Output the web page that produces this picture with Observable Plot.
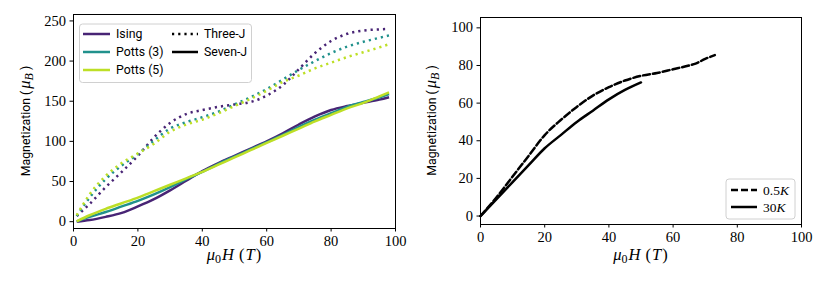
<!DOCTYPE html>
<html><head><meta charset="utf-8">
<script src="https://cdn.jsdelivr.net/npm/d3@7"></script>
<script src="https://cdn.jsdelivr.net/npm/@observablehq/plot@0.6"></script>
<style>
body{margin:0;background:#fff;}
#wrap{position:relative;width:830px;height:289px;overflow:hidden;}
#left,#right,#over{position:absolute;top:0;}
#left{left:0}#right{left:415px}#over{left:0;pointer-events:none}
</style></head><body><div id="wrap"><div id="left"></div><div id="right"></div><svg id="over" width="830" height="289"></svg></div>
<script>
// ---- Left panel data: field (T) and magnetization (μB)
const fieldLeft = [1,5,10,15,20,25,30,35,40,45,50,55,60,65,70,75,80,85,90,95,98];
const isingSeven  = [0,2,6,11,19,28,39,51,63,73,82,91,100,110,121,131,139,144,148,152,155];
const potts3Seven = [0.3,6,12,19,26,34,43,53,62,72,81,90,99,108,118,127,135,143,149,155,159];
const potts5Seven = [0.5,8,16,23,30,38,46,54,62,71,80,89,98,107,116,125,133,141,148,156,161];
const isingThree  = [7,22,43,62,82,105,123,134,139,143,146,149,157,170,190,210,225,234,238,239.5,240];
const potts3Three = [7,30,53,70,84,101,116,124,130,137,146,155,165,177,189,200,210,218,224,229,232];
const potts5Three = [8,34,57,73,85,97,112,121,127,135,144,153,163,174,182,191,198,205,211,217,221];
const models = ["Ising","Potts (3)","Potts (5)"];
const modelColors = ["#482475","#21918c","#bddf26"];
const couplings = ["Three-J","Seven-J"];
const leftXTicks = [0,20,40,60,80,100];
const leftYTicks = [0,50,100,150,200,250];

// ---- Right panel data
const fieldCold = [0,5,10,15,20,25,30,35,40,45,50,55,60,65,67,70,73];
const magCold   = [0,10,21,32,43,51,58,64,68.5,72,74.5,76,78,80,81,83.5,85.5];
const fieldHot  = [0,5,10,15,20,25,30,35,40,45,50];
const magHot    = [0,9,18,27,36,43,50,56,62,67,71];
const temps = ["0.5","30"];
const rightXTicks = [0,20,40,60,80,100];
const rightYTicks = [0,20,40,60,80,100];

const seriesLeft = [
  {model:0, coupling:0, y:isingThree},
  {model:1, coupling:0, y:potts3Three},
  {model:2, coupling:0, y:potts5Three},
  {model:0, coupling:1, y:isingSeven},
  {model:1, coupling:1, y:potts3Seven},
  {model:2, coupling:1, y:potts5Seven}
];

const tickFont = {fontFamily:"'Liberation Serif', serif", fontSize:"14.5px", color:"black", background:"white", overflow:"visible"};

const leftMarks = [];
for (const s of seriesLeft) {
  const rows = fieldLeft.map((x,i)=>({x, y:s.y[i]}));
  leftMarks.push(Plot.line(rows, {x:"x", y:"y", stroke:modelColors[s.model], strokeWidth:2.5,
    curve:"monotone-x", strokeDasharray: s.coupling===0 ? "2.2,4" : null, strokeLinecap:"butt"}));
}
leftMarks.push(Plot.frame({stroke:"black", strokeWidth:1}));

const left = Plot.plot({
  width:415, height:289, marginLeft:73, marginRight:20, marginTop:14, marginBottom:61,
  x:{domain:[0,100], ticks:leftXTicks, tickSize:3.5, tickPadding:4, label:null},
  y:{domain:[-8.5,258], ticks:leftYTicks, tickSize:3.5, tickPadding:4, label:null},
  style:tickFont,
  marks:leftMarks
});
document.getElementById("left").appendChild(left);

const coldRows = fieldCold.map((x,i)=>({x, y:magCold[i]}));
const hotRows = fieldHot.map((x,i)=>({x, y:magHot[i]}));
const right = Plot.plot({
  width:415, height:289, marginLeft:65, marginRight:29, marginTop:17, marginBottom:65,
  x:{domain:[0,100], ticks:rightXTicks, tickSize:3.5, tickPadding:4, label:null},
  y:{domain:[-4.5,105.5], ticks:rightYTicks, tickSize:3.5, tickPadding:4, label:null},
  style:tickFont,
  marks:[
    Plot.line(coldRows, {x:"x", y:"y", stroke:"black", strokeWidth:2.5, strokeDasharray:"7,3", curve:"monotone-x"}),
    Plot.line(hotRows, {x:"x", y:"y", stroke:"black", strokeWidth:2.5, curve:"monotone-x"}),
    Plot.frame({stroke:"black", strokeWidth:1})
  ]
});
document.getElementById("right").appendChild(right);

// ---- Overlay: axis titles and legends
const svg = d3.select("#over");
const sans = "Roboto, 'DejaVu Sans', sans-serif";
const serif = "'Liberation Serif', serif";

function yLabel(x, cy) {
  const t = svg.append("text").attr("transform",`translate(${x},${cy}) rotate(-90)`)
    .attr("text-anchor","middle").attr("fill","black");
  t.append("tspan").attr("font-family",sans).attr("font-size",12.3).text("Magnetization (");
  t.append("tspan").attr("font-family",serif).attr("font-style","italic").attr("font-size",16.5).attr("dx",2).text("μ");
  t.append("tspan").attr("font-family",serif).attr("font-style","italic").attr("font-size",12).attr("dy",3).text("B");
  t.append("tspan").attr("font-family",sans).attr("font-size",12.3).attr("dy",-3).attr("dx",3).text(")");
}
function xLabel(cx, y) {
  const t = svg.append("text").attr("x",cx).attr("y",y).attr("text-anchor","middle").attr("fill","black")
    .attr("font-family",serif).attr("font-size",16.5);
  t.append("tspan").attr("font-style","italic").text("μ");
  t.append("tspan").attr("font-size",12).attr("dy",3).text("0");
  t.append("tspan").attr("font-style","italic").attr("dy",-3).attr("dx",1).text("H");
  t.append("tspan").attr("dx",5).text("(");
  t.append("tspan").attr("font-style","italic").attr("dx",1).text("T");
  t.append("tspan").attr("dx",1).text(")");
}
yLabel(29.5, 121);
yLabel(436, 120.5);
xLabel(234, 260);
xLabel(640.5, 260);

// Left legend
svg.append("rect").attr("x",79.5).attr("y",24).attr("width",172).attr("height",58.5).attr("rx",3)
  .attr("fill","white").attr("fill-opacity",0.8).attr("stroke","#d0d0d0").attr("stroke-width",1);
const rowsY = [34,52,70];
models.forEach((m,i)=>{
  svg.append("line").attr("x1",83).attr("x2",110).attr("y1",rowsY[i]).attr("y2",rowsY[i])
    .attr("stroke",modelColors[i]).attr("stroke-width",2.5);
  svg.append("text").attr("x",116).attr("y",rowsY[i]+4.3).attr("font-family",sans).attr("font-size",12.3)
    .attr("fill","black").text(m);
});
couplings.forEach((c,i)=>{
  svg.append("line").attr("x1",172).attr("x2",198).attr("y1",rowsY[i]).attr("y2",rowsY[i])
    .attr("stroke","black").attr("stroke-width",2.5).attr("stroke-dasharray", i===0 ? "2.2,4" : null);
  svg.append("text").attr("x",204).attr("y",rowsY[i]+4.3).attr("font-family",sans).attr("font-size",12.3)
    .attr("fill","black").text(c);
});

// Right legend
svg.append("rect").attr("x",726).attr("y",179).attr("width",69).attr("height",40).attr("rx",3)
  .attr("fill","white").attr("fill-opacity",0.8).attr("stroke","#d0d0d0").attr("stroke-width",1);
const rRows = [190,207];
temps.forEach((t,i)=>{
  svg.append("line").attr("x1",731).attr("x2",757).attr("y1",rRows[i]).attr("y2",rRows[i])
    .attr("stroke","black").attr("stroke-width",2.5).attr("stroke-dasharray", i===0 ? "7,3" : null);
  const tx = svg.append("text").attr("x",763).attr("y",rRows[i]+4.5).attr("font-family",serif).attr("font-size",13.5).attr("fill","black");
  tx.append("tspan").text(t);
  tx.append("tspan").attr("font-style","italic").text("K");
});
</script></body></html>
